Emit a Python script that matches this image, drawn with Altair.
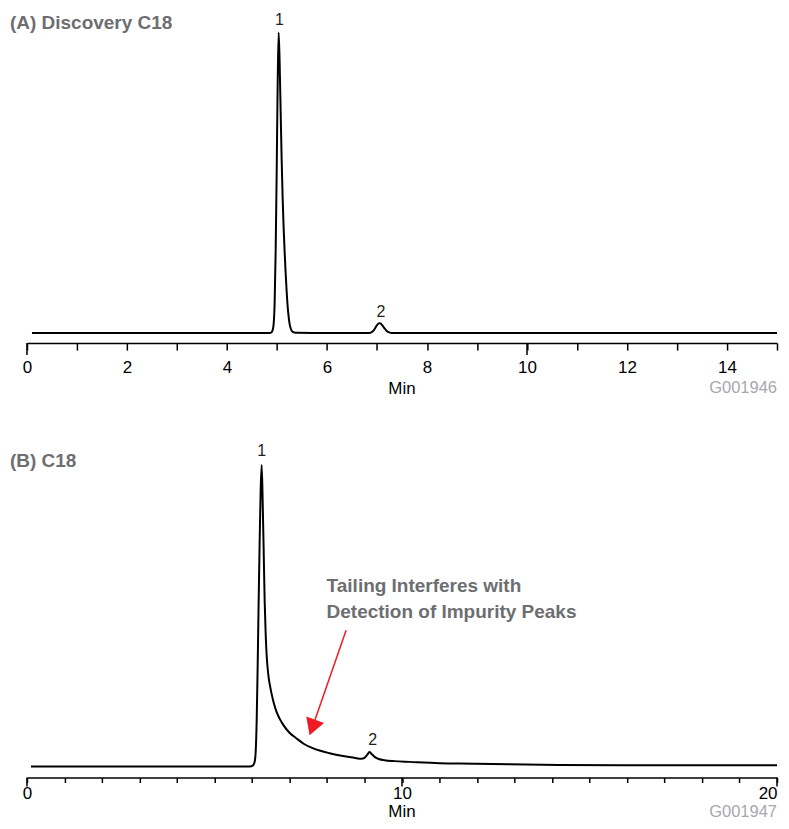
import altair as alt
import pandas as pd

# ---------------- data ----------------
# Panel A (Discovery C18): retention time (min) and detector signal (peak 1 = 100)
a_time = [0.1, 2.0, 4.0, 4.85, 4.893, 4.913, 4.933, 4.953, 4.973, 4.993, 5.013, 5.033,
          5.053, 5.073, 5.093, 5.113, 5.133, 5.153, 5.173, 5.193, 5.213, 5.233, 5.253,
          5.273, 5.293, 5.333, 5.413, 6.0, 6.85, 6.91, 6.95, 6.99, 7.03, 7.05, 7.07,
          7.11, 7.15, 7.19, 7.23, 7.29, 7.45, 10.0, 15.0]
a_signal = [0, 0, 0, 0, 0.3, 1.0, 3.0, 10, 27, 52, 82, 100,
            90, 74, 58, 45, 35, 27, 20, 14, 9, 5.5, 3,
            1.6, 0.8, 0.3, 0.1, 0, 0, 0.5, 1.3, 2.4, 3.2, 3.3, 3.2,
            2.5, 1.6, 0.8, 0.3, 0.05, 0, 0, 0]

# Panel B (C18): retention time (min) and detector signal (peak 1 = 100)
b_time = [0.107, 3.28, 5.94, 6.02, 6.07,
          6.099, 6.125, 6.151, 6.178, 6.205, 6.232, 6.258, 6.285, 6.311, 6.338, 6.365, 6.391,
          6.418, 6.445, 6.485, 6.525, 6.578, 6.65, 6.74, 6.83, 7.00, 7.18, 7.40, 7.62,
          8.07, 8.47, 8.73, 8.92,
          9.00, 9.08, 9.13, 9.19, 9.27, 9.40, 9.53, 9.80, 10.20,
          11.00, 11.53, 12.86, 14.19, 15.87, 17.92, 20.0]
b_signal = [0, 0, 0, 0.3, 1.5,
            5, 15, 33, 55, 75, 92, 100, 88, 72, 55, 44, 37,
            32.5, 29.5, 26.5, 24, 21.2, 18.3, 15.8, 13.9, 11.2, 9.4, 7.4, 6.1,
            4.4, 3.4, 2.9, 2.6,
            2.9, 4.0, 4.8, 4.2, 3.2, 2.4, 2.1, 1.8, 1.55,
            1.1, 1.0, 0.75, 0.55, 0.45, 0.43, 0.43]

panel_titles = ["(A) Discovery C18", "(B) C18"]
figure_codes = ["G001946", "G001947"]
axis_title = "Min"

peak_names = ["1", "2"]
a_peak_time = [5.05, 7.08]
a_peak_label_height = [104.0, 7.1]
b_peak_time = [6.26, 9.22]
b_peak_label_height = [104.7, 8.8]

a_major_ticks = [0, 10]
b_major_ticks = [0, 10, 20]

note_lines = ["Tailing Interferes with", "Detection of Impurity Peaks"]
note_time = [7.99, 7.99]
note_height = [60.0, 51.4]

arrow_start = [8.51, 45.2]   # (time, signal)
arrow_head = [7.61, 12.95]   # (time, signal)

FONT = "Liberation Sans, Arial, Helvetica, sans-serif"
TEXT_GREY = "#6d6e71"
CODE_GREY = "#a7a9ac"
RED = "#ed1c24"


def panel(times, signal, peak_t, peak_v, major, title, code, xmax, ydom, height,
          label_every, major_tick, minor_tick, label_pad,
          title_y, code_y, code_baseline, min_y, extra_fn=None):
    xs = alt.Scale(domain=[0, xmax], nice=False, zero=False)
    ys = alt.Scale(domain=ydom, nice=False, zero=False)
    axis = alt.Axis(
        values=list(range(0, xmax + 1)),
        labelExpr=f"datum.value % {label_every} === 0 ? datum.label : ''",
        labelAlign={"condition": {"test": f"datum.value === {xmax}", "value": "right"},
                    "value": "center"},
        tickSize=minor_tick, labelPadding=label_pad,
        labelFlush=False, labelOverlap=False, grid=False,
        title=None,
    )

    def X(field=None, datum=None):
        if datum is not None:
            return alt.X(datum=datum, type="quantitative", scale=xs, axis=axis)
        return alt.X(field, type="quantitative", scale=xs, axis=axis)

    def Y(field):
        return alt.Y(field, type="quantitative", scale=ys, axis=None)

    trace = pd.DataFrame({"t": times, "v": signal})
    line = alt.Chart(trace).mark_line(
        color="black", strokeWidth=2, interpolate="monotone"
    ).encode(x=X("t"), y=Y("v"))

    ticks = pd.DataFrame({"t": major})
    long_ticks = alt.Chart(ticks).mark_rule(color="black", strokeWidth=1.5).encode(
        x=X("t"), y=alt.value(height), y2=alt.value(height + major_tick)
    )

    peaks = pd.DataFrame({"t": peak_t, "v": peak_v, "name": peak_names})
    peak_text = alt.Chart(peaks).mark_text(
        font=FONT, fontSize=16, color="#231f20", align="center", baseline="middle"
    ).encode(x=X("t"), y=Y("v"), text="name:N")

    one = pd.DataFrame({"label": [title], "code": [code], "unit": [axis_title]})
    title_text = alt.Chart(one).mark_text(
        font=FONT, fontSize=19, fontWeight="bold", color=TEXT_GREY,
        align="left", baseline="middle"
    ).encode(x=alt.value(-17), y=alt.value(title_y), text="label:N")
    code_text = alt.Chart(one).mark_text(
        font=FONT, fontSize=16.5, color=CODE_GREY, align="right", baseline=code_baseline
    ).encode(x=X(datum=xmax), y=alt.value(code_y), text="code:N")
    unit_text = alt.Chart(one).mark_text(
        font=FONT, fontSize=17, color="black", align="center", baseline="alphabetic"
    ).encode(x=X(datum=xmax / 2), y=alt.value(min_y), text="unit:N")

    layers = [line, long_ticks, peak_text, title_text, code_text, unit_text]
    if extra_fn:
        layers += extra_fn(X, Y)
    return alt.layer(*layers).properties(width=751, height=height)


def annotation_layers(X, Y):
    notes = pd.DataFrame({"t": note_time, "v": note_height, "text": note_lines})
    note_text = alt.Chart(notes).mark_text(
        font=FONT, fontSize=19, fontWeight="bold", color=TEXT_GREY,
        align="left", baseline="middle"
    ).encode(x=X("t"), y=Y("v"), text="text:N")
    arrow = pd.DataFrame({"t": [arrow_start[0]], "v": [arrow_start[1]],
                          "t2": [arrow_head[0]], "v2": [arrow_head[1]]})
    arrow_line = alt.Chart(arrow).mark_rule(color=RED, strokeWidth=1.5).encode(
        x=X("t"), y=Y("v"), x2="t2:Q", y2="v2:Q"
    )
    arrow_tip = alt.Chart(arrow).mark_point(
        shape="triangle-down", filled=True, size=360, angle=20, color=RED, opacity=1
    ).encode(x=X("t2"), y=Y("v2"))
    return [note_text, arrow_line, arrow_tip]


# panel A: plot area from page y=8 to 343
chart_a = panel(a_time, a_signal, a_peak_time, a_peak_label_height, a_major_ticks,
                panel_titles[0], figure_codes[0], 15, [-3.32, 107.97], 335,
                2, 12, 7, 9, 15, 380, "middle", 386)
# panel B: plot area from page y=429 to 778
chart_b = panel(b_time, b_signal, b_peak_time, b_peak_label_height, b_major_ticks,
                panel_titles[1], figure_codes[1], 20, [-3.64, 111.92], 349,
                10, 9, 5, 2.5, 32, 388.5, "alphabetic", 388.5,
                extra_fn=annotation_layers)

chart = alt.vconcat(chart_a, chart_b, spacing=86, bounds="flush").properties(
    padding={"left": 2, "top": 0, "right": 0, "bottom": 0}
).configure_view(stroke=None).configure_axis(
    labelFont=FONT, labelFontSize=17, labelColor="black",
    domainColor="black", domainWidth=1.5, tickColor="black", tickWidth=1.5,
)

chart.save("out.html", embed_options={"renderer": "svg", "actions": False})
